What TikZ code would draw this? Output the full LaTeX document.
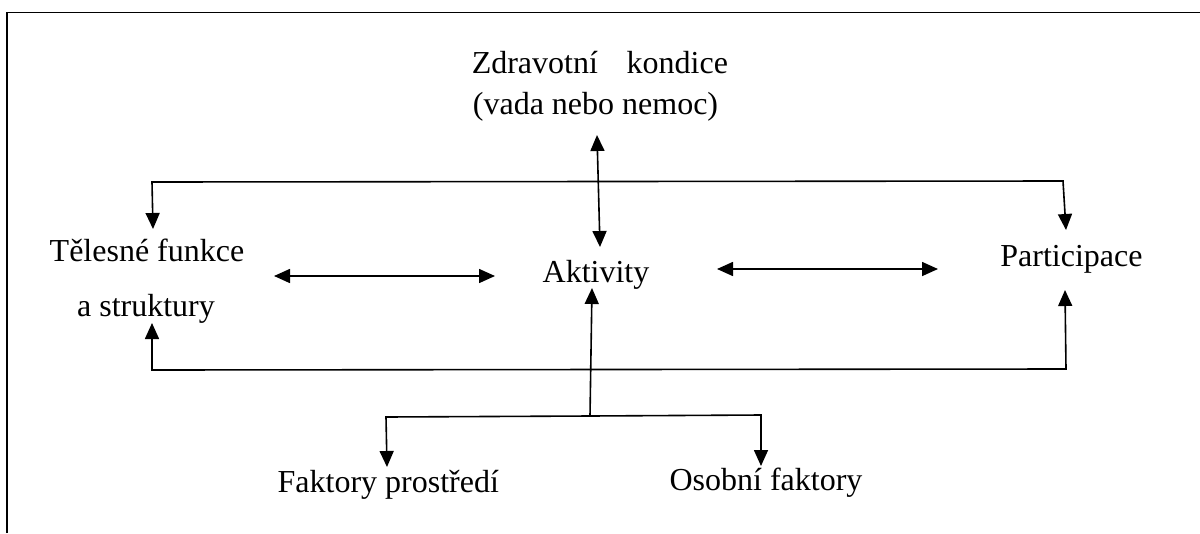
\documentclass[tikz,border=0pt]{standalone}
\usepackage{fontspec}
\setmainfont{Liberation Serif}
\usetikzlibrary{arrows.meta}
\begin{document}
\begin{tikzpicture}[x=0.75pt,y=-0.75pt,
  lbl/.style={inner sep=0pt,anchor=base,font=\fontsize{24}{28}\selectfont},
  conn/.style={line width=1.2pt,line cap=rect},
  arr/.style={conn,-{Triangle[length=12pt,width=10.5pt]}},
  darr/.style={conn,{Triangle[length=12pt,width=10.5pt]}-{Triangle[length=12pt,width=10.5pt]}},
  frame/.style={line width=1.3pt}]
\useasboundingbox (0,0) rectangle (1200,533);
% partial frame (top and left edges)
\draw[frame] (7,533) -- (7,12.5) -- (1200,12.5);

% labels
\node[lbl,anchor=base west] (zk) at (471.5,73.3) {Zdravotní\hspace{0.9em}kondice};
\node[lbl] (vn) at (595.5,114) {(vada nebo nemoc)};
\node[lbl] (tf) at (147,261.7) {Tělesné funkce};
\node[lbl] (as) at (146,316.7) {a struktury};
\node[lbl] (ak) at (596,282) {Aktivity};
\node[lbl] (pa) at (1071.5,266) {Participace};
\node[lbl] (fp) at (388.3,492.7) {Faktory prostředí};
\node[lbl] (of) at (766,490) {Osobní faktory};

% junction and arrow end points
\coordinate (zkTip) at (597,135);
\coordinate (akTop) at (600,247);
\coordinate (tL) at (152,182);
\coordinate (tR) at (1063,181);
\coordinate (tfTip) at (153,229);
\coordinate (paTop) at (1066,230);
\coordinate (bL) at (152,370);
\coordinate (bR) at (1066,369);
\coordinate (asTip) at (152,323);
\coordinate (paBot) at (1065,290);
\coordinate (h1L) at (274,276);
\coordinate (h1R) at (495,276);
\coordinate (h2L) at (717,269);
\coordinate (h2R) at (938,269);
\coordinate (akBot) at (592,288);
\coordinate (fJ) at (590,416);
\coordinate (fL) at (386,417);
\coordinate (fR) at (761,415);
\coordinate (fpTip) at (387,467);
\coordinate (ofTip) at (761,466);

% health condition <-> activities
\draw[darr] (zkTip) -- (akTop);
% upper bar to body functions and participation
\draw[conn] (tL) -- (tR);
\draw[arr] (tL) -- (tfTip);
\draw[arr] (tR) -- (paTop);
% lower bar from participation back to body functions
\draw[conn] (bL) -- (bR);
\draw[arr] (bL) -- (asTip);
\draw[arr] (bR) -- (paBot);
% horizontal interactions
\draw[darr] (h1L) -- (h1R);
\draw[darr] (h2L) -- (h2R);
% contextual factors
\draw[arr] (fJ) -- (akBot);
\draw[conn] (fL) -- (fJ) -- (fR);
\draw[arr] (fL) -- (fpTip);
\draw[arr] (fR) -- (ofTip);
\end{tikzpicture}
\end{document}
